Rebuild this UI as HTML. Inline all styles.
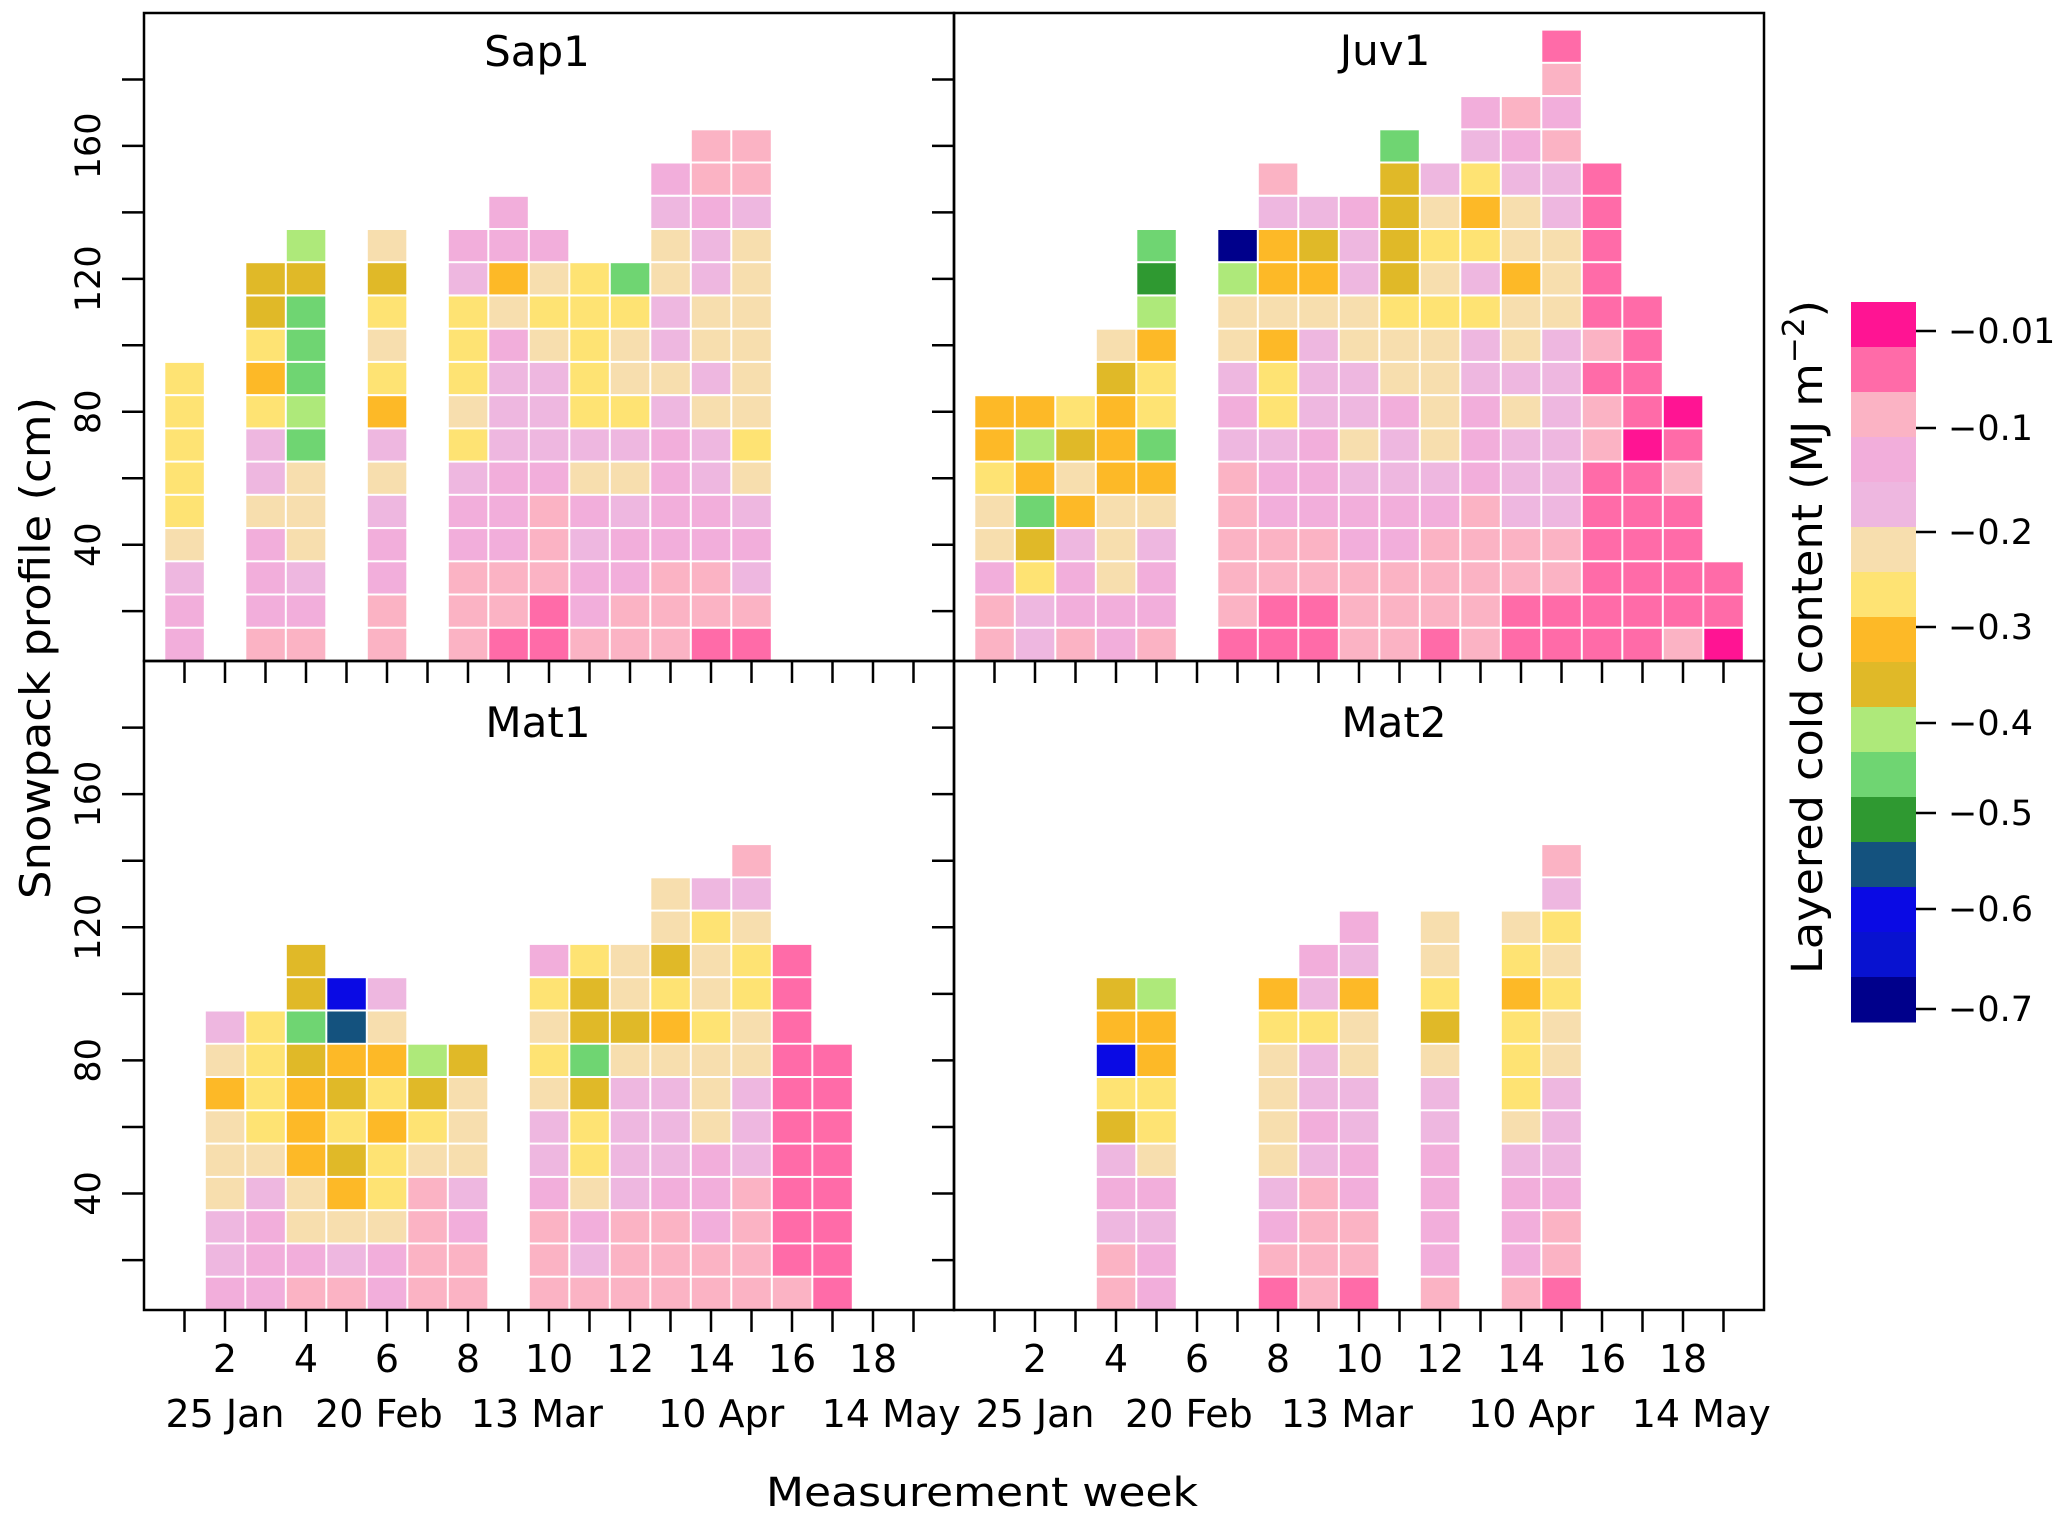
<!DOCTYPE html>
<html><head><meta charset="utf-8"><style>
html,body{margin:0;padding:0;background:#fff;}
svg{display:block;font-family:"DejaVu Sans","Liberation Sans",sans-serif;}
</style></head><body>
<svg id="chart" width="2067" height="1519" viewBox="0 0 2067 1519" xmlns="http://www.w3.org/2000/svg">
<rect width="2067" height="1519" fill="#fff"/>
<g id="cells"></g>
<g id="axes"></g>
<g id="cbar"></g>
<text x="982" y="1506" font-size="40" text-anchor="middle" textLength="432" lengthAdjust="spacingAndGlyphs">Measurement week</text>
<text transform="translate(50,648) rotate(-90)" font-size="42" text-anchor="middle" textLength="502" lengthAdjust="spacingAndGlyphs">Snowpack profile (cm)</text>
<text transform="translate(1822,637) rotate(-90)" font-size="43" text-anchor="middle" textLength="674" lengthAdjust="spacingAndGlyphs">Layered cold content (MJ m<tspan dy="-18" font-size="30">−2</tspan><tspan dy="18">)</tspan></text>
</svg>
<script>
// value codes -> cold content (MJ m^-2)
const codeValue = {A:-0.03,B:-0.07,C:-0.11,D:-0.15,E:-0.19,F:-0.23,G:-0.27,H:-0.31,I:-0.36,J:-0.40,K:-0.45,L:-0.50,M:-0.55,N:-0.60,O:-0.65,P:-0.70};
const colorBreaks = [-0.05,-0.09,-0.13,-0.17,-0.21,-0.25,-0.29,-0.335,-0.38,-0.425,-0.475,-0.525,-0.575,-0.625,-0.675];
const colorScale = ['#FF1493','#FF6BA8','#FBB3C4','#F2AEDB','#EEB7E0','#F7DEAE','#FEE373','#FDB927','#E0B928','#AEE97A','#6FD572','#2F9931','#14527E','#0A0AE4','#0812D0','#00008B'];
const cbarLabels = ['−0.01','−0.1','−0.2','−0.3','−0.4','−0.5','−0.6','−0.7'];
const cbarLabelY = [331,428,532,627,723,813,909,1009];

const panelNames = ['Sap1','Juv1','Mat1','Mat2'];
const sap1Weeks = [1,3,4,6,8,9,10,11,12,13,14,15];
const sap1Profiles = ['DDEFGGGGG','CDDDFEEGHGII','CDEFFFKJKKKIJ','CCDDEFEHGFGIF','CCCDDEGFGGGED','BCCDDDEEEDFHDD','BBCCCDEEEFGFD','CDDEDFEGGGGG','CCDDEFEGFFGK','CCCDDDDEFEEFFED','BCCDDEEFEFFEEDCC','BCEDEFGFFFFFFECC'];
const juv1Weeks = [1,2,3,4,5,7,8,9,10,11,12,13,14,15,16,17,18,19];
const juv1Profiles = ['CCDFFGHH','EEGIKHJH','CDDEHFIG','DDFFFHHHIF','CDDEFHKGGHJLK','BCCCCCEDEFFJP','BBCCDDEGGHFHHEC','BBCCDDDEEEFHIE','CCCDDEFEEFFEED','CCCDDEEDFFGIIIIK','BCCCDEFFFFGFGFE','CCCCCDDDEEGEGHGED','BBCCEEEFEFFHFFEDC','BBCCEEEEEEFFFEECDCB','BBBBBBCCBCBBBBB','BBBBBBABBBB','CBBBBCBA','ABB'];
const mat1Weeks = [2,3,4,5,6,7,8,10,11,12,13,14,15,16,17];
const mat1Profiles = ['DEEFFFHFE','DDDEFGGGG','CDFFHHHIKII','CEFHIGIHMN','DDFGGHGHFE','CCCCFGIJ','CCDEFFFI','CCCDEEFGFGD','CEDFGGIKIIG','CCCEEEEFIFF','CCCDEEEFHGIFF','CCDDDFFFGFFGE','CCCCEEEFFGGFEC','CBBBBBBBBBB','BBBBBBBB'];
const mat2Weeks = [4,5,8,9,10,12,14,15];
const mat2Profiles = ['CCEDEIGNHI','DDEDFGGHHJ','BCDEFFFFGH','CCCCEDEEGED','BCCDDEEFFHED','CDDDDEEFIGFF','CDDDEFGGGHGF','BCCDEEEFFGFGEC'];
const layerDepths = [10,20,30,40,50,60,70,80,90,100,110,120,130,140,150,160,170,180,190];
const yTicks = [20,40,60,80,100,120,140,160,180];
const yTickLabels = [40,80,120,160];
const xTicks = [1,2,3,4,5,6,7,8,9,10,11,12,13,14,15,16,17,18,19];
const xTickLabels = [2,4,6,8,10,12,14,16,18];
const dateLabels = ['25 Jan','20 Feb','13 Mar','10 Apr','14 May'];
const dateWeeks = [2,5.8,9.7,14.25,18.45];

const NS='http://www.w3.org/2000/svg';
function mk(tag, attrs, parent){const e=document.createElementNS(NS,tag);for(const k in attrs)e.setAttribute(k,attrs[k]);parent.appendChild(e);return e;}
function colorOf(v){let i=0;while(i<colorBreaks.length && v<colorBreaks[i])i++;return colorScale[i];}

const panels=[
 {x0:144,top:13,bottom:661,weeks:sap1Weeks,profiles:sap1Profiles,tx:537,ty:66,left:true,bottomRow:false},
 {x0:954,top:13,bottom:661,weeks:juv1Weeks,profiles:juv1Profiles,tx:1385,ty:65,left:false,bottomRow:false},
 {x0:144,top:661,bottom:1310,weeks:mat1Weeks,profiles:mat1Profiles,tx:538,ty:737,left:true,bottomRow:true},
 {x0:954,top:661,bottom:1310,weeks:mat2Weeks,profiles:mat2Profiles,tx:1394,ty:737,left:false,bottomRow:true}
];
const cellsG=document.getElementById('cells');
const axesG=document.getElementById('axes');
const W=810;
panels.forEach((p,pi)=>{
  const xs=w=>p.x0+w*(W/20);
  const ys=cm=>p.bottom-(cm-5)*((p.bottom-p.top)/195);
  p.weeks.forEach((w,ci)=>{
    const prof=p.profiles[ci];
    for(let k=0;k<prof.length;k++){
      const d=layerDepths[k];
      const v=codeValue[prof[k]];
      const x1=xs(w-0.5)+1, x2=xs(w+0.5)-1, y1=ys(d+5)+1, y2=ys(d-5)-1;
      const r=mk('rect',{x:x1.toFixed(1),y:y1.toFixed(1),width:(x2-x1).toFixed(1),height:(y2-y1).toFixed(1),fill:colorOf(v)},cellsG);
      
      
    }
  });
  const fr=mk('rect',{x:p.x0,y:p.top,width:W,height:p.bottom-p.top,fill:'none',stroke:'#000','stroke-width':2.5},axesG);
  
  
  const t=mk('text',{x:p.tx,y:p.ty,'font-size':42,'text-anchor':'middle'},axesG);
  t.textContent=panelNames[pi];
  
  
  xTicks.forEach(w=>{
    const l=mk('line',{x1:xs(w),x2:xs(w),y1:p.bottom,y2:p.bottom+22,stroke:'#000','stroke-width':2.5},axesG);
    
    
  });
  yTicks.forEach(c=>{
    const l=mk('line',{x1:p.x0-22,x2:p.x0,y1:ys(c),y2:ys(c),stroke:'#000','stroke-width':2.5},axesG);
    
    
  });
  if(p.left){
    yTickLabels.forEach(c=>{
      const tl=mk('text',{transform:'translate(100,'+ys(c).toFixed(1)+') rotate(-90)','font-size':35,'text-anchor':'middle'},axesG);
      tl.textContent=c;
      
      
    });
  }
  if(p.bottomRow){
    xTickLabels.forEach(w=>{
      const tl=mk('text',{x:xs(w),y:1372,'font-size':38,'text-anchor':'middle'},axesG);
      tl.textContent=w;
      
      
    });
    dateLabels.forEach((s,i)=>{
      const tl=mk('text',{x:xs(dateWeeks[i]),y:1427,'font-size':38,'text-anchor':'middle'},axesG);
      tl.textContent=s;
      
      
    });
  }
});
// colorbar
const cb=document.getElementById('cbar');
const cbTop=302, cbH=45;
colorScale.forEach((c,i)=>{
  const r=mk('rect',{x:1851,y:cbTop+i*cbH,width:65,height:cbH+0.5,fill:c},cb);
  
  
});
cbarLabels.forEach((s,i)=>{
  const l=mk('line',{x1:1916,x2:1936,y1:cbarLabelY[i],y2:cbarLabelY[i],stroke:'#000','stroke-width':2.5},cb);
  
  
  const t=mk('text',{x:1948,y:cbarLabelY[i]+12,'font-size':35},cb);
  t.textContent=s;
  
  
});
</script>
</body></html>
